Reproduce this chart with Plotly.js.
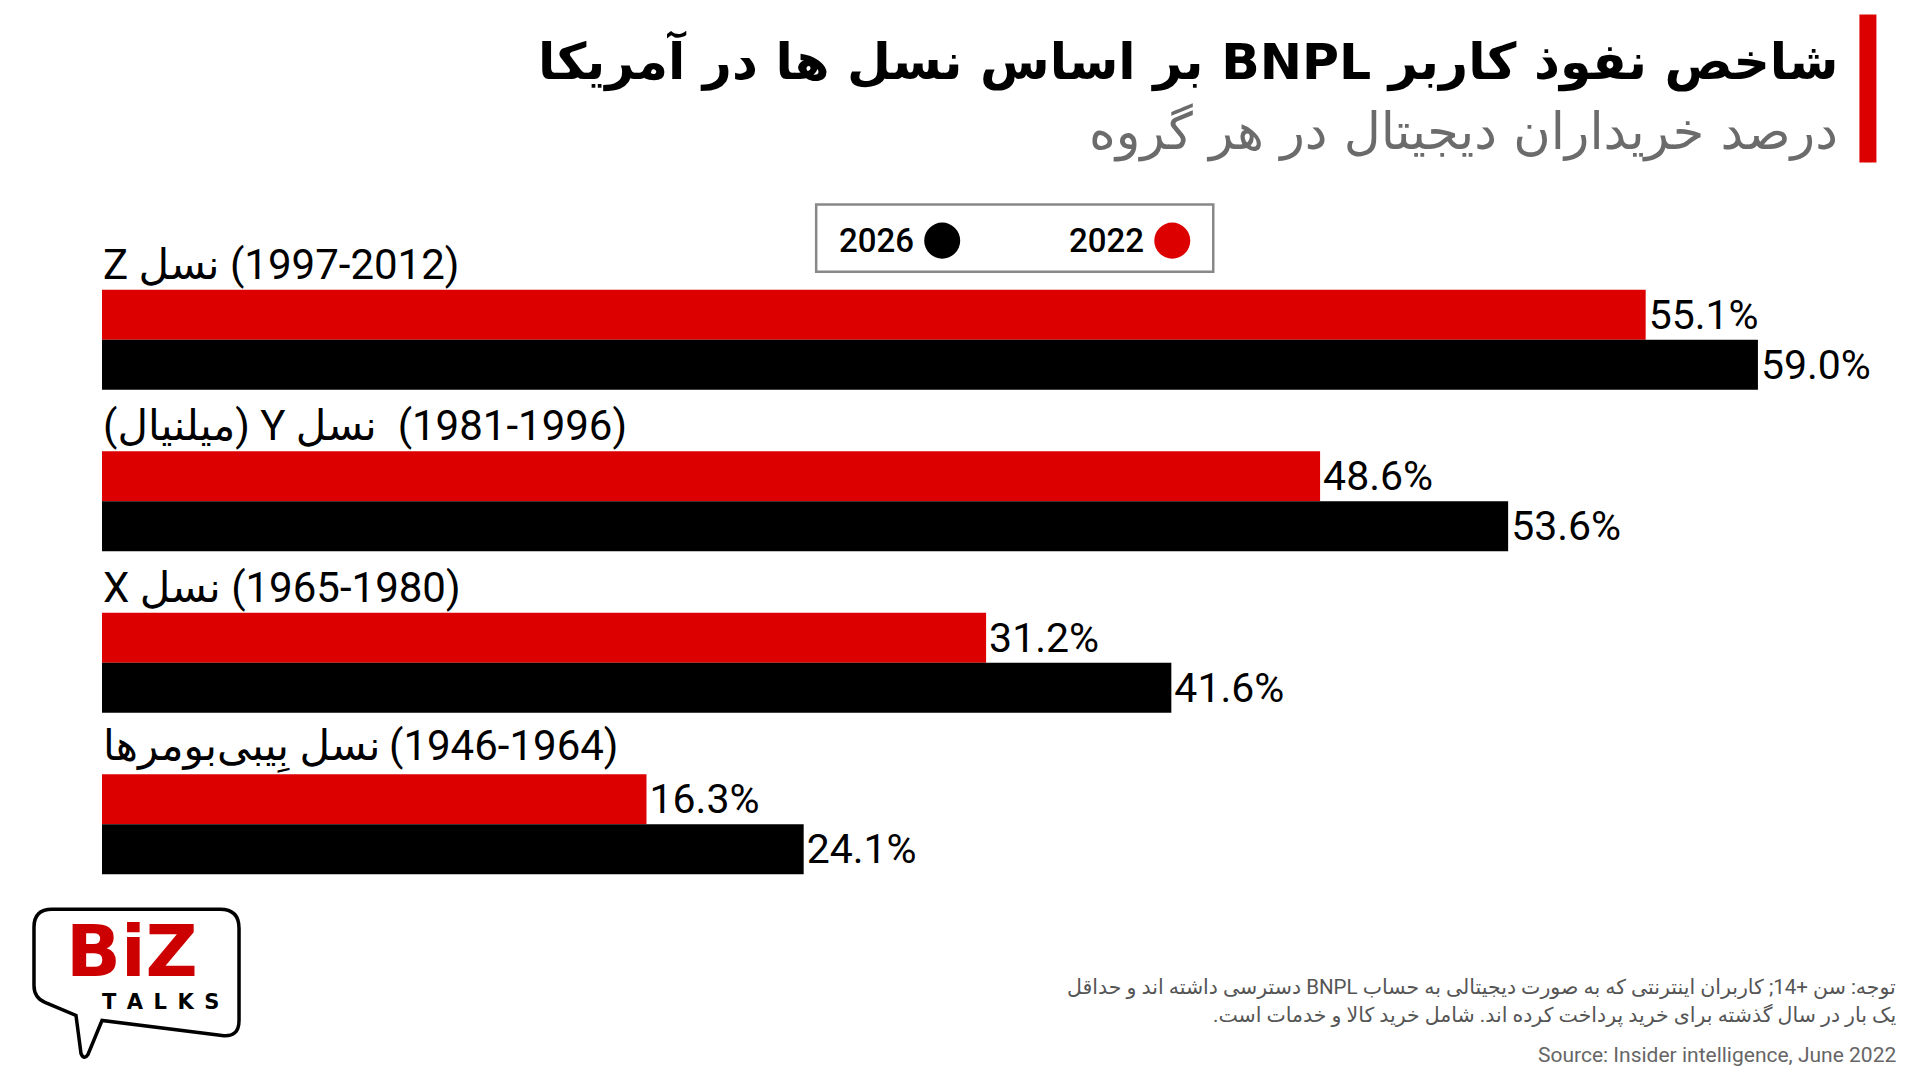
<!DOCTYPE html>
<html>
<head>
<meta charset="utf-8">
<script src="https://cdn.plot.ly/plotly-3.0.1.min.js"></script>
<style>
  html, body { margin: 0; padding: 0; background: #ffffff; }
  #chart { width: 1920px; height: 1080px; }
</style>
</head>
<body>
<div id="chart"></div>
<script>
// ---------------- DATA ----------------
const generations = ["GenZ", "GenY", "GenX", "Boomers"];
const generationLabels = [
  "Z نسل \u200E(1997-2012)",
  "\u200E(میلنیال) Y نسل \u200E (1981-1996)",
  "X نسل \u200E(1965-1980)",
  "نسل بِیبی‌بومرها\u2009\u200E(1946-1964)"
];
const seriesNames = ["2022", "2026"];
// printed values
const values2022 = [55.1, 48.6, 31.2, 16.3];
const values2026 = [59.0, 53.6, 41.6, 24.1];
// bar lengths as drawn in the reference (same scale)
const barLen2022 = [55.0, 43.4, 31.5, 19.4];
const barLen2026 = [59.0, 50.1, 38.1, 25.0];

const titleText = "شاخص نفوذ کاربر BNPL بر اساس نسل ها در آمریکا";
const subtitleText = "درصد خریداران دیجیتال در هر گروه";
const noteLine1 = "توجه: سن +14; کاربران اینترنتی که به صورت دیجیتالی به حساب BNPL دسترسی داشته اند و حداقل";
const noteLine2 = "یک بار در سال گذشته برای خرید پرداخت کرده اند. شامل خرید کالا و خدمات است.";
const sourceText = "Source: Insider intelligence, June 2022";

// ---------------- STYLE ----------------
const RED = "#dc0000";
const BLACK = "#000000";
const FONT = "Roboto, 'DejaVu Sans', sans-serif";

// plot geometry (pixels)
const L = 102, T = 259.35, W = 1683.6, H = 645.3;
const R = 1920 - L - W, B = 1080 - T - H;
function px(x) { return (x - L) / W; }
function py(y) { return 1 - (y - T) / H; }
function pt(x, y) { return px(x).toFixed(5) + "," + py(y).toFixed(5); }
const RLE = "\u202B", PDF = "\u202C";

const fmt = v => v.toFixed(1) + "%";

const traces = [
  {
    type: "bar", orientation: "h", name: seriesNames[0],
    y: generations, x: barLen2022,
    marker: { color: RED },
    text: values2022.map(fmt), textposition: "outside",
    textfont: { family: FONT, size: 41, color: BLACK },
    cliponaxis: false, constraintext: "none", hoverinfo: "skip"
  },
  {
    type: "bar", orientation: "h", name: seriesNames[1],
    y: generations, x: barLen2026,
    marker: { color: BLACK },
    text: values2026.map(fmt), textposition: "outside",
    textfont: { family: FONT, size: 41, color: BLACK },
    cliponaxis: false, constraintext: "none", hoverinfo: "skip"
  }
];

const annotations = [];
// category labels above each bar group
generations.forEach((g, i) => {
  annotations.push({
    xref: "x", yref: "y", x: 0, y: g, xanchor: "left", yanchor: "bottom",
    yshift: 50, showarrow: false, text: generationLabels[i], borderpad: 0,
    font: { family: FONT, size: 42, color: BLACK }
  });
});
// title & subtitle
annotations.push({
  xref: "paper", yref: "paper", x: px(1840), y: py(62), xanchor: "right", yanchor: "middle",
  showarrow: false, text: RLE + titleText + PDF,
  font: { family: "'DejaVu Sans', sans-serif", size: 50.5, color: BLACK, weight: 900 }
});
annotations.push({
  xref: "paper", yref: "paper", x: px(1840), y: py(132), xanchor: "right", yanchor: "middle",
  showarrow: false, text: RLE + subtitleText + PDF,
  font: { family: "'DejaVu Sans', sans-serif", size: 51, color: "#6b6b6b" }
});
// legend texts
annotations.push({
  xref: "paper", yref: "paper", x: px(916), y: py(241), xanchor: "right", yanchor: "middle",
  showarrow: false, text: seriesNames[1],
  font: { family: FONT, size: 33, color: BLACK, weight: 500 }
});
annotations.push({
  xref: "paper", yref: "paper", x: px(1146), y: py(241), xanchor: "right", yanchor: "middle",
  showarrow: false, text: seriesNames[0],
  font: { family: FONT, size: 33, color: BLACK, weight: 500 }
});
// footnotes
annotations.push({
  xref: "paper", yref: "paper", x: px(1898), y: py(987), xanchor: "right", yanchor: "middle",
  showarrow: false, text: RLE + noteLine1 + PDF,
  font: { family: FONT, size: 20.5, color: "#555555" }
});
annotations.push({
  xref: "paper", yref: "paper", x: px(1898), y: py(1015), xanchor: "right", yanchor: "middle",
  showarrow: false, text: RLE + noteLine2 + PDF,
  font: { family: FONT, size: 20.5, color: "#555555" }
});
annotations.push({
  xref: "paper", yref: "paper", x: px(1898), y: py(1054), xanchor: "right", yanchor: "middle",
  showarrow: false, text: sourceText,
  font: { family: FONT, size: 21, color: "#666666" }
});
// logo texts
annotations.push({
  xref: "paper", yref: "paper", x: px(132), y: py(951), xanchor: "center", yanchor: "middle",
  showarrow: false, text: "BiZ",
  font: { family: "'DejaVu Sans', sans-serif", size: 72, color: "#cc0000", weight: 700 }
});
annotations.push({
  xref: "paper", yref: "paper", x: px(160), y: py(1002), xanchor: "center", yanchor: "middle",
  showarrow: false, text: "T\u2002A\u2002L\u2002K\u2002S",
  font: { family: "'DejaVu Sans', sans-serif", size: 21, color: BLACK, weight: 700 }
});

// logo bubble path with rounded corners (pixels)
const bubblePath = "M " + pt(52, 909) +
  " L " + pt(220, 909) + " Q " + pt(239, 909) + " " + pt(239, 928) +
  " L " + pt(239, 1020) + " Q " + pt(239, 1037) + " " + pt(222, 1035) +
  " L " + pt(102, 1020) + " L " + pt(88, 1054) + " Q " + pt(84, 1060) + " " + pt(81, 1053) +
  " L " + pt(76, 1015) + " L " + pt(45, 1002) + " Q " + pt(34, 997) + " " + pt(34, 985) +
  " L " + pt(34, 927) + " Q " + pt(34, 909) + " " + pt(52, 909) + " Z";

const shapes = [
  // red accent bar right of title
  { type: "rect", xref: "paper", yref: "paper", x0: px(1859), x1: px(1876), y0: py(15), y1: py(163),
    fillcolor: RED, line: { width: 0 } },
  // legend box
  { type: "rect", xref: "paper", yref: "paper", x0: px(816), x1: px(1213), y0: py(205), y1: py(272),
    fillcolor: "rgba(0,0,0,0)", line: { color: "#888888", width: 2.5 } },
  // legend markers
  { type: "circle", xref: "paper", yref: "paper", x0: px(924), x1: px(960), y0: py(223), y1: py(259),
    fillcolor: BLACK, line: { width: 0 } },
  { type: "circle", xref: "paper", yref: "paper", x0: px(1154), x1: px(1190), y0: py(223), y1: py(259),
    fillcolor: RED, line: { width: 0 } },
  // logo bubble
  { type: "path", xref: "paper", yref: "paper", path: bubblePath,
    fillcolor: "#ffffff", line: { color: BLACK, width: 3.5 } }
];

const layout = {
  width: 1920, height: 1080,
  margin: { l: L, r: R, t: T, b: B, pad: 0 },
  paper_bgcolor: "#ffffff", plot_bgcolor: "#ffffff",
  showlegend: false,
  barmode: "group", bargap: 0.38, bargroupgap: 0,
  xaxis: { range: [0, 60], visible: false, showgrid: false, zeroline: false, fixedrange: true },
  yaxis: { type: "category", range: [3.5, -0.5], visible: false, showgrid: false, zeroline: false, fixedrange: true },
  annotations: annotations,
  shapes: shapes
};

Plotly.newPlot("chart", traces, layout, { displayModeBar: false, staticPlot: true });
</script>
</body>
</html>
